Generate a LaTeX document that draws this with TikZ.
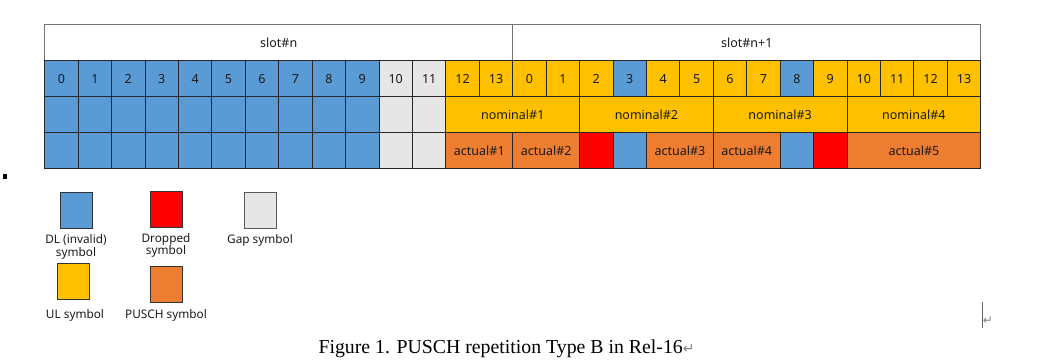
\documentclass[tikz,border=0pt]{standalone}
\usepackage{fontspec}
\setmainfont{Noto Sans}
\newfontfamily\capfont{Liberation Serif}
\newfontfamily\symfont{DejaVu Sans}
\definecolor{dlblue}{HTML}{5B9BD5}
\definecolor{ulgold}{HTML}{FFC000}
\definecolor{gapgray}{HTML}{E7E6E6}
\definecolor{puschor}{HTML}{ED7D31}
\definecolor{dropred}{HTML}{FF0000}
\definecolor{txt}{HTML}{1A1A1A}
\tikzset{
 cellbox/.style={draw=black!85, line width=0.8pt, inner sep=0pt, outer sep=0pt, minimum height=36pt, font=\fontsize{12.5}{14}\selectfont, text=txt},
 slotbox/.style={cellbox, draw=black!55, fill=white},
 sDL/.style={fill=dlblue}, sUL/.style={fill=ulgold}, sGAP/.style={fill=gapgray}, sPU/.style={fill=puschor}, sDR/.style={fill=dropred},
 legbox/.style={draw=black!80, line width=0.8pt, inner sep=0pt, minimum width=32pt, minimum height=36pt},
 legtext/.style={font=\fontsize{11.8}{12.8}\selectfont, align=center, text=txt, inner sep=0pt},
}
\newcommand\cell[6]{\node[cellbox,#5,minimum width={#3*33.43pt}] (#1) at ({44.7+(#2+#3/2)*33.43},{24.7+#4*36+18}) {#6};}
\begin{document}
\begin{tikzpicture}[x=1pt,y=-1pt]
\path[use as bounding box] (0,0) rectangle (1040,363);
% slot row
\cell{slotn}{0}{14}{0}{slotbox}{slot\#n}
\cell{slotn1}{14}{14}{0}{slotbox}{slot\#n+1}
% symbol row
\foreach \i in {0,...,9} {\cell{s\i}{\i}{1}{1}{sDL}{\i}}
\cell{s10}{10}{1}{1}{sGAP}{10}
\cell{s11}{11}{1}{1}{sGAP}{11}
\cell{s12}{12}{1}{1}{sUL}{12}
\cell{s13}{13}{1}{1}{sUL}{13}
\foreach \i in {0,1,2,4,5,6,7,9,10,11,12,13} {\cell{t\i}{14+\i}{1}{1}{sUL}{\i}}
\cell{t3}{17}{1}{1}{sDL}{3}
\cell{t8}{22}{1}{1}{sDL}{8}
% nominal row
\foreach \i in {0,...,9} {\cell{n\i}{\i}{1}{2}{sDL}{}}
\cell{n10}{10}{1}{2}{sGAP}{}
\cell{n11}{11}{1}{2}{sGAP}{}
\cell{nom1}{12}{4}{2}{sUL}{nominal\#1}
\cell{nom2}{16}{4}{2}{sUL}{nominal\#2}
\cell{nom3}{20}{4}{2}{sUL}{nominal\#3}
\cell{nom4}{24}{4}{2}{sUL}{nominal\#4}
% actual row
\foreach \i in {0,...,9} {\cell{a\i}{\i}{1}{3}{sDL}{}}
\cell{a10}{10}{1}{3}{sGAP}{}
\cell{a11}{11}{1}{3}{sGAP}{}
\cell{act1}{12}{2}{3}{sPU}{actual\#1}
\cell{act2}{14}{2}{3}{sPU}{actual\#2}
\cell{drop1}{16}{1}{3}{sDR}{}
\cell{dlx1}{17}{1}{3}{sDL}{}
\cell{act3}{18}{2}{3}{sPU}{actual\#3}
\cell{act4}{20}{2}{3}{sPU}{actual\#4}
\cell{dlx2}{22}{1}{3}{sDL}{}
\cell{drop2}{23}{1}{3}{sDR}{}
\cell{act5}{24}{4}{3}{sPU}{actual\#5}
% bullet
\node[fill=black, minimum width=4.5pt, minimum height=5pt, inner sep=0pt] (bullet) at (5,176.5) {};
% legend
\node[legbox, fill=dlblue] (lgDL) at (76,210) {};
\node[legbox, fill=dropred] (lgDR) at (166,209) {};
\node[legbox, fill=gapgray, draw=black!65] (lgGAP) at (260.5,210) {};
\node[legbox, fill=ulgold] (lgUL) at (73,281.5) {};
\node[legbox, fill=puschor] (lgPU) at (166,284.5) {};
\node[legtext] (tDL) at (76,247) {DL (invalid)\\symbol};
\node[legtext] (tDR) at (166,245.5) {Dropped\\symbol};
\node[legtext] (tGAP) at (260,240) {Gap symbol};
\node[legtext] (tUL) at (75,315) {UL symbol};
\node[legtext] (tPU) at (166,315) {PUSCH symbol};
% caption
\node[anchor=base west, inner sep=0pt] (caption) at (318.3,353) {\capfont\fontsize{19.8}{22}\selectfont Figure 1. PUSCH repetition Type B in Rel-16{\color{gray}\symfont\fontsize{14}{16}\selectfont ↵}};
% cursor
\coordinate (curtop) at (982,302);
\coordinate (curbot) at (982,328);
\draw[black!60, line width=0.8pt] (curtop) -- (curbot);
\node[text=gray, inner sep=0pt, font=\symfont\fontsize{12}{13}\selectfont] (curmark) at (988,321) {↵};
\end{tikzpicture}
\end{document}
